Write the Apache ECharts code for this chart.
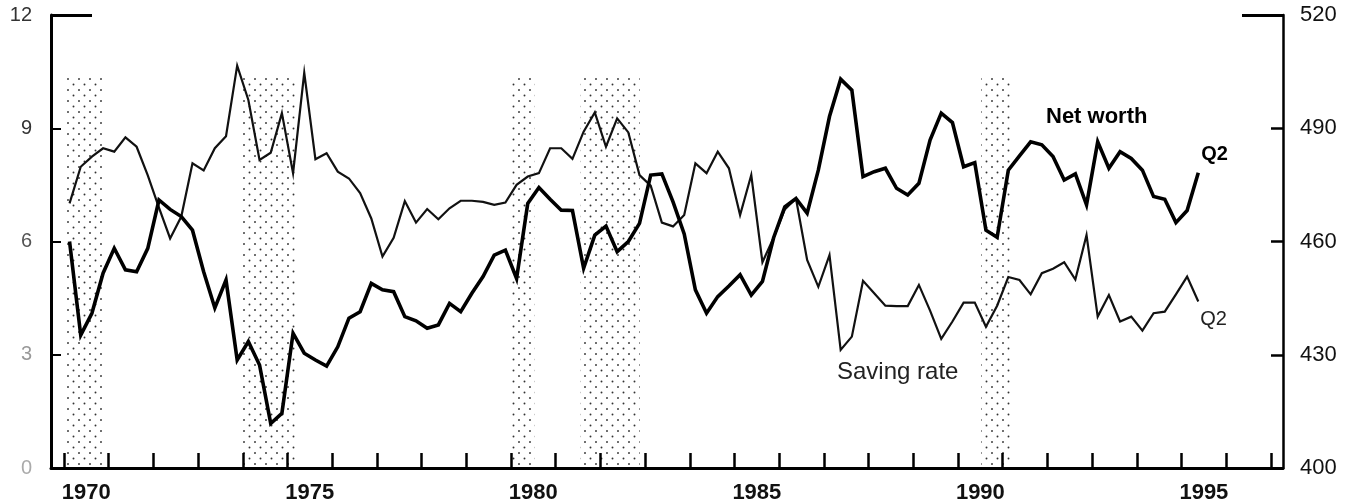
<!DOCTYPE html>
<html>
<head>
<meta charset="utf-8">
<script src="https://cdn.jsdelivr.net/npm/echarts@6/dist/echarts.min.js"></script>
<style>
  html, body { margin: 0; padding: 0; background: #fff; }
  #chart { width: 1358px; height: 504px; }
</style>
</head>
<body>
<div id="chart"></div>
<script>
// Quarterly series, 1970 Q1 through 1995 Q2
const startYear = 1970;

// Personal saving rate, percent (left scale)
const savingRate = [
  7.01, 7.98, 8.25, 8.47, 8.38, 8.76, 8.51, 7.75, 6.90, 6.08,
  6.66, 8.07, 7.88, 8.47, 8.79, 10.66, 9.75, 8.16, 8.35, 9.40,
  7.81, 10.47, 8.18, 8.34, 7.85, 7.67, 7.28, 6.61, 5.60, 6.10,
  7.07, 6.50, 6.86, 6.59, 6.88, 7.08, 7.08, 7.05, 6.97, 7.03,
  7.50, 7.72, 7.81, 8.47, 8.47, 8.19, 8.91, 9.42, 8.51, 9.26,
  8.89, 7.76, 7.48, 6.50, 6.40, 6.70, 8.07, 7.81, 8.38, 7.94,
  6.70, 7.76, 5.45, 6.10, 6.85, 7.14, 5.51, 4.80, 5.64, 3.13,
  3.48, 4.96, 4.63, 4.30, 4.29, 4.29, 4.85, 4.17, 3.42, 3.88,
  4.38, 4.38, 3.74, 4.30, 5.06, 4.98, 4.60, 5.16, 5.28, 5.45,
  4.99, 6.17, 4.01, 4.58, 3.88, 4.01, 3.64, 4.10, 4.14, 4.60,
  5.07, 4.41
];

// Household net worth relative to disposable income, percent (right scale)
const netWorth = [
  460.0, 435.2, 441.0, 451.6, 458.2, 452.5, 452.0, 458.2, 471.0, 468.5,
  466.6, 463.0, 452.0, 442.4, 449.8, 428.6, 433.5, 427.3, 411.8, 414.5,
  435.7, 430.4, 428.6, 427.0, 432.1, 439.7, 441.4, 448.9, 447.2, 446.7,
  440.1, 439.0, 437.0, 437.9, 443.6, 441.4, 446.3, 450.7, 456.4, 457.7,
  450.2, 470.1, 474.3, 471.2, 468.3, 468.2, 452.9, 461.7, 464.1, 457.3,
  460.0, 464.8, 477.6, 477.9, 470.5, 462.0, 447.2, 441.0, 445.4, 448.2,
  451.2, 445.8, 449.4, 461.0, 469.2, 471.4, 467.5, 478.9, 493.1, 503.0,
  500.1, 477.2, 478.5, 479.4, 474.1, 472.3, 475.4, 486.9, 494.0, 491.5,
  479.8, 480.9, 463.0, 461.1, 478.9, 482.7, 486.4, 485.6, 482.5, 476.3,
  477.9, 469.7, 486.4, 479.4, 483.8, 482.0, 478.9, 471.9, 471.2, 465.0,
  468.2, 478.2
];

// Recession periods (fractional years)
const recessions = [
  [1970.02, 1970.90],
  [1973.95, 1975.22],
  [1980.02, 1980.53],
  [1981.55, 1982.88],
  [1990.52, 1991.22]
];
const recessionTop = 10.4;

// Axis ticks and labels
const yearTicks = [];
for (let y = 1970; y <= 1997; y++) yearTicks.push(y);
const yearLabels = [1970, 1975, 1980, 1985, 1990, 1995];
const rateTicks = [0, 3, 6, 9, 12];
const worthTicks = [400, 430, 460, 490, 520];
const lastQuarterLabel = 'Q2';

const FONT = '"Liberation Sans", Arial, Helvetica, sans-serif';

function quarterX(i) { return startYear + (i + 0.5) / 4; }

// Stipple fill for recession bands
function stipple() {
  const c = document.createElement('canvas');
  c.width = 11; c.height = 11;
  const g = c.getContext('2d');
  g.fillStyle = 'rgba(0,0,0,0.8)';
  g.beginPath(); g.arc(2, 2, 0.95, 0, Math.PI * 2); g.fill();
  g.beginPath(); g.arc(7.5, 7.5, 0.95, 0, Math.PI * 2); g.fill();
  return c;
}

const rateLabelColor = { 0: '#aaa', 3: '#999', 6: '#555', 9: '#333', 12: '#333' };

const chart = echarts.init(document.getElementById('chart'), null, { renderer: 'canvas' });

chart.setOption({
  animation: false,
  backgroundColor: '#fff',
  textStyle: { fontFamily: FONT },
  grid: { left: 51, right: 75, top: 15, bottom: 36, containLabel: false },
  xAxis: {
    type: 'value',
    min: 1969.71,
    max: 1997.27,
    splitLine: { show: false },
    axisLine: { show: true, lineStyle: { color: '#000', width: 3 } },
    axisTick: {
      show: true, inside: true, length: 15,
      customValues: yearTicks,
      lineStyle: { color: '#000', width: 2.5 }
    },
    axisLabel: {
      customValues: yearLabels.map(y => y + 0.5),
      formatter: v => String(Math.floor(v)),
      fontSize: 22, fontWeight: 'bold', color: '#111', margin: 14
    }
  },
  yAxis: [
    {
      type: 'value', position: 'left', min: 0, max: 12, interval: 3,
      splitLine: { show: false },
      axisLine: { show: true, lineStyle: { color: '#000', width: 3 } },
      axisTick: { show: true, inside: true, length: 10, lineStyle: { color: '#000', width: 2 } },
      axisLabel: {
        margin: 19, fontSize: 20,
        color: v => rateLabelColor[v] || '#333'
      }
    },
    {
      type: 'value', position: 'right', min: 400, max: 520, interval: 30,
      splitLine: { show: false },
      axisLine: { show: true, lineStyle: { color: '#000', width: 2.5 } },
      axisTick: { show: true, inside: true, length: 12, lineStyle: { color: '#000', width: 2.5 } },
      axisLabel: { margin: 17, fontSize: 22, color: '#111' }
    },
    {
      type: 'value', position: 'left', min: 0, max: 12,
      splitLine: { show: false },
      axisLine: { show: false },
      axisLabel: { show: false },
      axisTick: {
        show: true, inside: true, length: 41,
        customValues: [rateTicks[rateTicks.length - 1]],
        lineStyle: { color: '#000', width: 3 }
      }
    },
    {
      type: 'value', position: 'right', min: 400, max: 520,
      splitLine: { show: false },
      axisLine: { show: false },
      axisLabel: { show: false },
      axisTick: {
        show: true, inside: true, length: 41,
        customValues: [worthTicks[worthTicks.length - 1]],
        lineStyle: { color: '#000', width: 3 }
      }
    }
  ],
  series: [
    {
      name: 'Saving rate',
      type: 'line',
      yAxisIndex: 0,
      z: 3,
      showSymbol: false,
      silent: true,
      data: savingRate.map((v, i) => [quarterX(i), v]),
      lineStyle: { color: '#111', width: 2.2, join: 'miter' },
      endLabel: {
        show: true, formatter: lastQuarterLabel, distance: 0, offset: [2, 18],
        fontSize: 20, color: '#222'
      },
      markArea: {
        silent: true,
        itemStyle: { color: { image: stipple(), repeat: 'repeat' }, borderWidth: 0 },
        data: recessions.map(r => [
          { xAxis: r[0], yAxis: 0 },
          { xAxis: r[1], yAxis: recessionTop }
        ])
      }
    },
    {
      name: 'Net worth',
      type: 'line',
      yAxisIndex: 1,
      z: 4,
      showSymbol: false,
      silent: true,
      data: netWorth.map((v, i) => [quarterX(i), v]),
      lineStyle: { color: '#000', width: 3.6, join: 'miter' },
      endLabel: {
        show: true, formatter: lastQuarterLabel, distance: 0, offset: [3, -18],
        fontSize: 20, fontWeight: 'bold', color: '#000'
      }
    }
  ],
  graphic: [
    {
      type: 'text', left: 1046, top: 106,
      style: { text: 'Net worth', font: 'bold 22px ' + FONT, fill: '#000' }
    },
    {
      type: 'text', left: 837, top: 360,
      style: { text: 'Saving rate', font: '24px ' + FONT, fill: '#222' }
    }
  ]
});
</script>
</body>
</html>
